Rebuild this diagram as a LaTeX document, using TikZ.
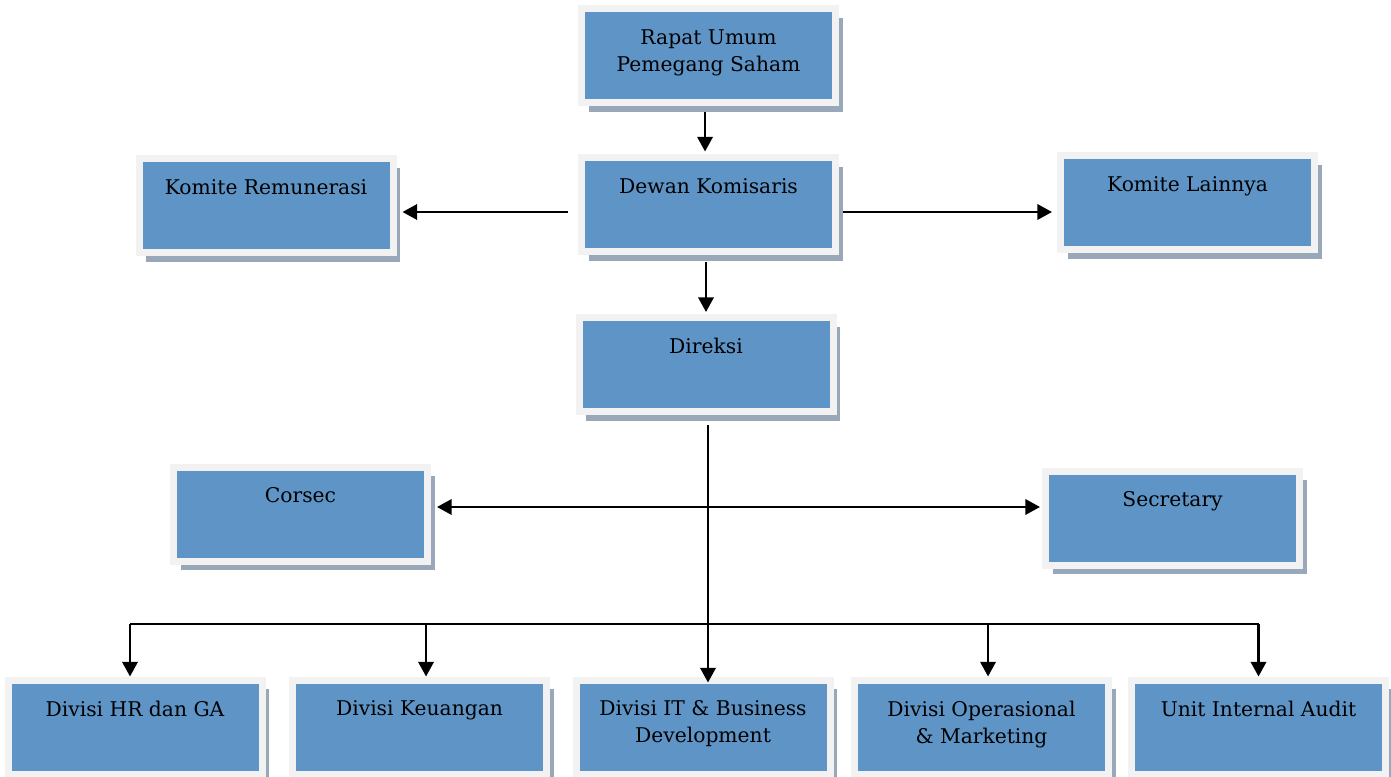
\documentclass[tikz,border=0pt]{standalone}
\usepackage{fontspec}
\setmainfont{DejaVu Serif}
\usetikzlibrary{arrows.meta,shadows}

\definecolor{boxblue}{HTML}{5F94C7}
\definecolor{framegray}{HTML}{F2F2F2}
\definecolor{shadowgray}{HTML}{98A8B9}

\tikzset{
  orgbox/.style  = {draw=framegray, line width=5.25pt, fill=boxblue,
                    minimum width=190.5pt, minimum height=70.5pt,
                    drop shadow={shadow xshift=5.6pt, shadow yshift=-7.1pt,
                                 fill=shadowgray, opacity=1}},
  orgtext/.style = {anchor=north, align=center, inner sep=0pt,
                    font=\fontsize{15.2}{20.25}\selectfont},
  arrow/.style   = {line width=1.9pt, -{Triangle[length=11pt,width=11.5pt]}},
  bus/.style     = {line width=1.2pt}
}

\begin{document}
\begin{tikzpicture}[x=0.75pt,y=-0.75pt]
  \useasboundingbox (0,0) rectangle (1391,777);

  % boxes
  \node[orgbox] (rups)      at (708.5,55.5) {};
  \node[orgbox] (dewan)     at (708.5,205)  {};
  \node[orgbox] (remun)     at (266,205.5)  {};
  \node[orgbox] (lainnya)   at (1187.5,202.5) {};
  \node[orgbox] (direksi)   at (706,364.5)  {};
  \node[orgbox] (corsec)    at (300.5,514)  {};
  \node[orgbox] (secretary) at (1172.5,518) {};
  \node[orgbox] (hrga)      at (135,727)    {};
  \node[orgbox] (keuangan)  at (419.5,727)  {};
  \node[orgbox] (itbd)      at (703,727)    {};
  \node[orgbox] (opsmkt)    at (981.5,727)  {};
  \node[orgbox] (audit)     at (1258.5,727) {};

  % labels
  \node[orgtext] (rups-t)      at ([yshift=-18pt]rups.north)      {Rapat Umum\\Pemegang Saham};
  \node[orgtext] (dewan-t)     at ([yshift=-18pt]dewan.north)     {Dewan Komisaris};
  \node[orgtext] (remun-t)     at ([yshift=-18pt]remun.north)     {Komite Remunerasi};
  \node[orgtext] (lainnya-t)   at ([yshift=-18pt]lainnya.north)   {Komite Lainnya};
  \node[orgtext] (direksi-t)   at ([yshift=-18pt]direksi.north)   {Direksi};
  \node[orgtext] (corsec-t)    at ([yshift=-18pt]corsec.north)    {Corsec};
  \node[orgtext] (secretary-t) at ([yshift=-18pt]secretary.north) {Secretary};
  \node[orgtext] (hrga-t)      at ([yshift=-18pt]hrga.north)      {Divisi HR dan GA};
  \node[orgtext] (keuangan-t)  at ([yshift=-18pt]keuangan.north)  {Divisi Keuangan};
  \node[orgtext] (itbd-t)      at ([yshift=-18pt]itbd.north)      {Divisi IT \& Business\\Development};
  \node[orgtext] (opsmkt-t)    at ([yshift=-18pt]opsmkt.north)    {Divisi Operasional\\\& Marketing};
  \node[orgtext] (audit-t)     at ([yshift=-18pt]audit.north)     {Unit Internal Audit};

  \coordinate (split) at (708,507);
  \coordinate (fork)  at (708,624);

  % connectors
  \draw[arrow, shorten <=4.5pt, shorten >=2.25pt]
        ([xshift=-2.6pt]rups.south) -- ([xshift=-2.6pt]dewan.north);
  \draw[arrow, shorten <=7.5pt, shorten >=4.5pt]
        ([yshift=-5.25pt]dewan.west) -- ([yshift=-5.25pt]dewan.west -| remun.east);
  \draw[arrow, shorten <=3pt, shorten >=3.75pt]
        ([yshift=-5.25pt]dewan.east) -- ([yshift=-5.25pt]dewan.east -| lainnya.west);
  \draw[arrow, shorten <=5.25pt, shorten >=1.5pt]
        (direksi.north |- dewan.south) -- (direksi.north);
  \draw[arrow, shorten <=7.5pt, shorten >=-4.5pt]
        (split |- direksi.south) -- (split |- itbd.north);
  \draw[arrow, {Triangle[length=11pt,width=11.5pt]}-{Triangle[length=11pt,width=11.5pt]},
        shorten <=4.5pt, shorten >=1.5pt]
        (corsec.east |- split) -- (secretary.west |- split);
  \draw[bus] ([xshift=-3.75pt]hrga.north |- fork) -- (audit.north |- fork);
  \draw[arrow] ([xshift=-3.75pt]hrga.north |- fork) -- ([xshift=-3.75pt]hrga.north);
  \draw[arrow] ([xshift=4.9pt]keuangan.north |- fork) -- ([xshift=4.9pt]keuangan.north);
  \draw[arrow] ([xshift=4.9pt]opsmkt.north |- fork) -- ([xshift=4.9pt]opsmkt.north);
  \draw[arrow] (audit.north |- fork) -- (audit.north);
\end{tikzpicture}
\end{document}
